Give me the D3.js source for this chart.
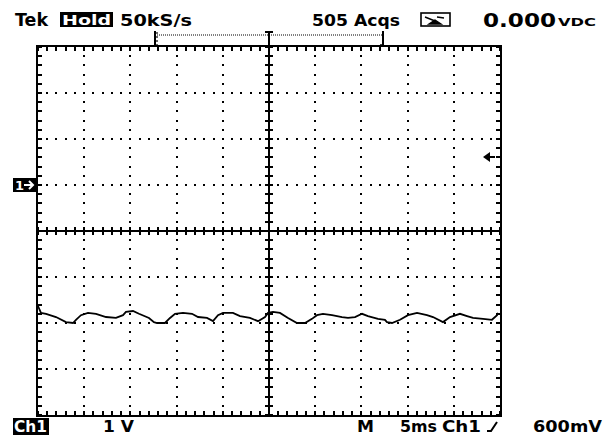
<!DOCTYPE html>
<html>
<head>
<meta charset="utf-8">
<script src="https://cdn.jsdelivr.net/npm/d3@7"></script>
<style>
  body { margin: 0; background: #fff; }
  text { font-family: "DejaVu Sans", sans-serif; font-weight: bold; }
  .grat line, .grat rect { shape-rendering: crispEdges; }
</style>
</head>
<body>
<svg id="scope" width="607" height="438"></svg>
<script>
// trace: time in ms (trigger at 0), volts relative to Ch1 ground
const timeMs = [-25.0, -24.68, -24.13, -23.05, -21.97, -21.21, -20.89, -20.35, -19.59, -18.72,
  -17.64, -16.56, -15.80, -15.48, -14.72, -14.07, -12.99, -12.45, -12.12, -11.26,
  -10.71, -10.17, -9.31, -8.33, -7.68, -6.71, -6.06, -5.52, -4.98, -3.90,
  -3.14, -2.06, -1.19, -0.43, -0.11, 0.43, 1.19, 2.06, 3.03, 3.90,
  4.65, 5.19, 5.84, 6.82, 7.90, 8.55, 9.31, 10.07, 10.71, 11.80,
  12.55, 12.77, 13.31, 14.18, 15.04, 16.02, 17.10, 17.75, 18.83, 19.59,
  20.67, 21.43, 22.08, 23.16, 24.13, 24.68, 24.78];
const volts = [-2.63, -2.78, -2.80, -2.87, -2.98, -3.00, -2.93, -2.83, -2.78, -2.80,
  -2.87, -2.89, -2.83, -2.76, -2.74, -2.80, -2.89, -2.98, -3.00, -3.00,
  -2.89, -2.80, -2.78, -2.80, -2.87, -2.89, -2.96, -2.83, -2.78, -2.78,
  -2.85, -2.89, -2.96, -2.87, -2.78, -2.76, -2.78, -2.89, -3.00, -3.00,
  -2.91, -2.83, -2.80, -2.83, -2.87, -2.89, -2.87, -2.80, -2.85, -2.91,
  -2.93, -2.98, -3.00, -2.93, -2.83, -2.78, -2.83, -2.87, -2.98, -2.87,
  -2.80, -2.85, -2.89, -2.91, -2.93, -2.83, -2.78];

const timeDomain = [-25, 25];   // 10 div x 5 ms
const voltDomain = [-5, 3];     // 8 div x 1 V, ground 3 div below top
const triggerLevel = 0.6;       // 600mV

const svg = d3.select("#scope");
const scr = { left: 38, right: 500, top: 47, bottom: 415 };

const x = d3.scaleLinear().domain(timeDomain).range([scr.left, scr.right]).interpolate(d3.interpolateRound);
const y = d3.scaleLinear().domain(voltDomain).range([scr.bottom, scr.top]).interpolate(d3.interpolateRound);
const xs = d3.scaleLinear().domain(timeDomain).range([scr.left, scr.right]);
const ys = d3.scaleLinear().domain(voltDomain).range([scr.bottom, scr.top]);

const majorT = d3.range(-25, 25.01, 5);
const minorT = d3.range(-25, 25.01, 1);
const majorV = d3.range(-5, 3.01, 1);
const minorV = d3.range(-5, 3.01, 0.2);

const g = svg.append("g").attr("class", "grat");

// dotted graticule
majorT.filter(t => t !== -25 && t !== 25 && t !== 0).forEach(t => {
  g.selectAll(null).data(minorV).enter().append("rect")
    .attr("x", x(t) - 1).attr("y", d => y(d) - 1)
    .attr("width", 2).attr("height", 2).attr("fill", "#000");
});
majorV.filter(v => v !== -5 && v !== 3 && v !== -1).forEach(v => {
  g.selectAll(null).data(minorT).enter().append("rect")
    .attr("x", d => x(d) - 1).attr("y", y(v) - 1)
    .attr("width", 2).attr("height", 2).attr("fill", "#000");
});

// border
g.append("rect").attr("x", scr.left - 1).attr("y", scr.top - 1)
  .attr("width", scr.right - scr.left + 2).attr("height", scr.bottom - scr.top + 2)
  .attr("fill", "none").attr("stroke", "#000").attr("stroke-width", 2);

// border ticks
const tk = 4;
const tick = (x1, x2, y1, y2) => g.append("line").attr("x1", x1).attr("x2", x2)
  .attr("y1", y1).attr("y2", y2).attr("stroke", "#000").attr("stroke-width", 2);
minorT.forEach(d => {
  tick(x(d), x(d), scr.top, scr.top + tk);
  tick(x(d), x(d), scr.bottom - tk, scr.bottom);
});
minorV.forEach(d => {
  tick(scr.left, scr.left + tk, y(d), y(d));
  tick(scr.right - tk, scr.right, y(d), y(d));
});

// center cross with ticks
const cx = x(0), cy = y(-1);
tick(scr.left, scr.right, cy, cy);
tick(cx, cx, scr.top, scr.bottom);
minorT.forEach(d => tick(x(d), x(d), cy - 4, cy + 4));
minorV.forEach(d => tick(cx - 4, cx + 4, y(d), y(d)));

// trace
const pts = timeMs.map((t, i) => [t, volts[i]]);
svg.append("path").datum(pts)
  .attr("d", d3.line().x(d => xs(d[0])).y(d => ys(d[1])))
  .attr("fill", "none").attr("stroke", "#000").attr("stroke-width", 1.8)
  .attr("stroke-linejoin", "miter");

const o = svg.append("g");
// record bracket above screen
const bl = 155, br = 383;
o.append("line").attr("x1", bl).attr("x2", br).attr("y1", 35).attr("y2", 35)
  .attr("stroke", "#000").attr("stroke-width", 1).attr("stroke-dasharray", "1,1");
o.append("line").attr("x1", bl).attr("x2", bl).attr("y1", 31).attr("y2", 46)
  .attr("stroke", "#000").attr("stroke-width", 2);
[33, 37, 41, 45].forEach(yy => o.append("line").attr("x1", bl).attr("x2", bl + 3)
  .attr("y1", yy).attr("y2", yy).attr("stroke", "#000").attr("stroke-width", 1.2));
o.append("line").attr("x1", br).attr("x2", br).attr("y1", 31).attr("y2", 46)
  .attr("stroke", "#000").attr("stroke-width", 2);
o.append("line").attr("x1", br - 3).attr("x2", br).attr("y1", 45).attr("y2", 45)
  .attr("stroke", "#000").attr("stroke-width", 1.5);
o.append("line").attr("x1", cx - 4).attr("x2", cx + 4).attr("y1", 32).attr("y2", 32)
  .attr("stroke", "#000").attr("stroke-width", 2);
o.append("line").attr("x1", cx).attr("x2", cx).attr("y1", 32).attr("y2", 46)
  .attr("stroke", "#000").attr("stroke-width", 2);

// ground marker "1->"
const gy = y(0);
o.append("rect").attr("x", 13).attr("y", gy - 7).attr("width", 24).attr("height", 14).attr("fill", "#000");
o.append("text").attr("x", 15).attr("y", gy + 5).attr("fill", "#fff")
  .attr("font-size", 13).text("1");
o.append("path").attr("d", `M24,${gy} L33,${gy} M29,${gy - 4} L33,${gy} L29,${gy + 4}`)
  .attr("stroke", "#fff").attr("stroke-width", 2).attr("fill", "none");

// trigger level arrow
const ty = y(triggerLevel);
o.append("path").attr("d", `M483,${ty} L490,${ty - 5} L490,${ty + 5} Z`).attr("fill", "#000");
o.append("line").attr("x1", 488).attr("x2", 495).attr("y1", ty).attr("y2", ty)
  .attr("stroke", "#000").attr("stroke-width", 2);

// header texts
const txt = (s, tx, tyy, size, len, fill) => o.append("text").attr("x", tx).attr("y", tyy)
  .attr("font-size", size).attr("fill", fill || "#000")
  .attr("textLength", len).attr("lengthAdjust", "spacingAndGlyphs").text(s);

txt("Tek", 15, 26, 17, 33).attr("font-family", "DejaVu Serif");
o.append("rect").attr("x", 60).attr("y", 12).attr("width", 53).attr("height", 15).attr("fill", "#000");
txt("Hold", 62, 25, 14, 49, "#fff");
txt("50kS/s", 120, 26, 16, 72);
txt("505 Acqs", 312, 26, 16, 88);

// meter icon
o.append("rect").attr("x", 421).attr("y", 13).attr("width", 29).attr("height", 13)
  .attr("fill", "none").attr("stroke", "#000").attr("stroke-width", 1.6);
o.append("path").attr("d", "M429,24 L441,24 L435,20 Z M425,17 L435,21 M437,17 L444,18")
  .attr("stroke", "#000").attr("stroke-width", 1.4).attr("fill", "#000");

txt("0.000", 483, 27, 20, 73);
txt("VDC", 558, 26, 11, 38);

// footer texts
o.append("rect").attr("x", 13).attr("y", 418).attr("width", 36).attr("height", 17).attr("fill", "#000");
txt("Ch1", 14, 432, 15, 33, "#fff");
txt("1 V", 103, 432, 15, 31);
txt("M", 357, 432, 15, 17);
txt("5ms", 400, 432, 15, 37);
txt("Ch1", 442, 432, 15, 39);
o.append("path").attr("d", "M487,431 L491,431 L497,422")
  .attr("stroke", "#000").attr("stroke-width", 2).attr("fill", "none");
txt("600mV", 533, 432, 15, 69);
</script>
</body>
</html>
